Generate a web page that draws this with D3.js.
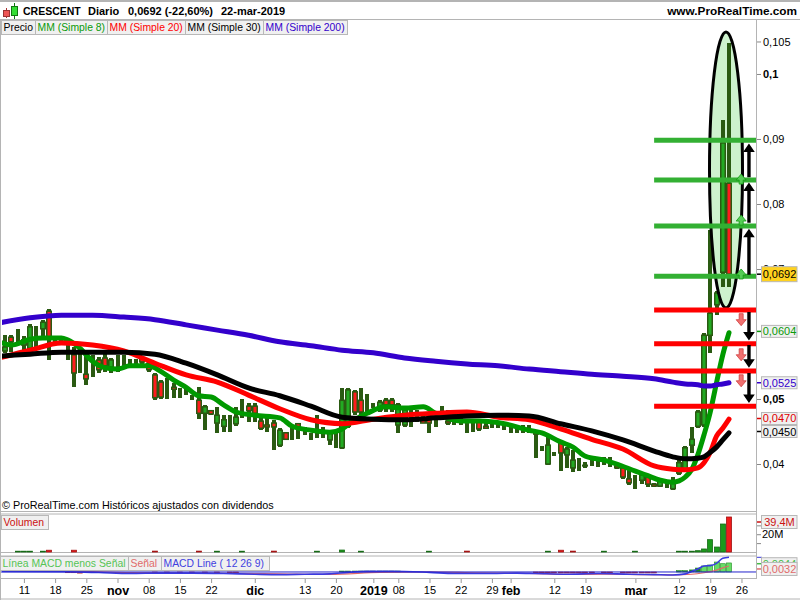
<!DOCTYPE html>
<html>
<head>
<meta charset="utf-8">
<script src="https://cdn.jsdelivr.net/npm/d3@7/dist/d3.min.js"></script>
<style>
html,body{margin:0;padding:0;background:#fff}
svg{display:block}
text{font-family:"Liberation Sans",Arial,sans-serif}
</style>
</head>
<body>
<div id="chart"></div>
<script>
// ---------- price data ----------
const high = [.0598,.0598,.0608,.0597,.0615,.0612,.0622,.0638,.0595,.0595,.0586,.0580,.0575,.0568,.0568,.0565,.0571,.0563,.0568,.0568,
.0562,.0562,.0565,.0557,.0540,.0529,.0532,.0525,.0517,.0518,.0506,.0518,.0491,.0483,.0488,.0475,.0475,.0488,.0500,.0494,
.0494,.0472,.0472,.0468,.0455,.0449,.0457,.0463,.0457,.0448,.0475,.0457,.0448,.0449,.0517,.0517,.0514,.0517,.0508,.0494,
.0498,.0502,.0502,.0494,.0483,.0488,.0483,.0480,.0480,.0472,.0489,.0483,.0480,.0478,.0468,.0468,.0466,.0463,.0465,.0465,
.0463,.0460,.0458,.0460,.0460,.0452,.0428,.0442,.0418,.0437,.0426,.0422,.0409,.0403,.0406,.0409,.0411,.0411,.0398,.0395,
.0391,.0383,.0386,.0382,.0371,.0378,.0375,.0380,.0406,.0428,.0457,.0483,.0602,.0760,.0666,.0929,.1048];
const low = [.0571,.0572,.0588,.0572,.0575,.0578,.0594,.0560,.0586,.0586,.0560,.0518,.0540,.0522,.0534,.0540,.0542,.0540,.0542,.0549,
.0549,.0549,.0554,.0542,.0498,.0500,.0500,.0502,.0502,.0506,.0498,.0469,.0452,.0475,.0448,.0449,.0449,.0458,.0471,.0465,
.0465,.0452,.0449,.0422,.0426,.0437,.0437,.0438,.0445,.0437,.0440,.0440,.0429,.0425,.0423,.0455,.0475,.0475,.0478,.0486,
.0480,.0480,.0480,.0448,.0457,.0457,.0465,.0463,.0448,.0457,.0471,.0460,.0460,.0460,.0448,.0449,.0451,.0454,.0455,.0455,
.0452,.0448,.0448,.0448,.0448,.0409,.0420,.0398,.0412,.0389,.0394,.0388,.0389,.0394,.0397,.0395,.0398,.0395,.0392,.0377,
.0368,.0362,.0369,.0365,.0365,.0365,.0363,.0360,.0383,.0388,.0417,.0455,.0457,.0571,.0629,.0672,.0672];
const open = [.0574,.0595,.0598,.0583,.0578,.0583,.0608,.0635,.0591,.0591,.0575,.0568,.0560,.0538,.0554,.0560,.0563,.0549,.0555,.0560,
.0555,.0555,.0563,.0555,.0537,.0526,.0514,.0518,.0509,.0512,.0503,.0498,.0478,.0482,.0463,.0458,.0463,.0462,.0486,.0489,
.0489,.0466,.0460,.0463,.0429,.0448,.0446,.0462,.0451,.0443,.0452,.0448,.0437,.0437,.0425,.0458,.0511,.0498,.0494,.0491,
.0483,.0498,.0498,.0460,.0460,.0472,.0475,.0468,.0468,.0465,.0480,.0466,.0471,.0468,.0458,.0458,.0465,.0458,.0460,.0460,
.0457,.0454,.0452,.0454,.0454,.0449,.0425,.0400,.0415,.0432,.0414,.0394,.0398,.0398,.0402,.0402,.0405,.0403,.0397,.0394,
.0377,.0372,.0375,.0380,.0369,.0366,.0369,.0362,.0386,.0391,.0429,.0458,.0460,.0598,.0645,.0695,.0832];
const close = [.0580,.0588,.0598,.0591,.0611,.0583,.0618,.0595,.0591,.0591,.0575,.0540,.0560,.0531,.0554,.0545,.0551,.0560,.0555,.0560,
.0555,.0555,.0557,.0545,.0502,.0503,.0514,.0515,.0509,.0512,.0503,.0478,.0488,.0477,.0475,.0468,.0463,.0472,.0486,.0482,
.0478,.0455,.0457,.0457,.0452,.0438,.0446,.0457,.0451,.0443,.0452,.0448,.0448,.0437,.0498,.0514,.0480,.0480,.0494,.0491,
.0495,.0491,.0491,.0491,.0483,.0472,.0475,.0463,.0463,.0465,.0480,.0463,.0471,.0468,.0458,.0458,.0454,.0455,.0460,.0460,
.0457,.0454,.0452,.0454,.0454,.0446,.0425,.0429,.0415,.0417,.0423,.0406,.0398,.0397,.0402,.0402,.0405,.0403,.0394,.0380,
.0371,.0372,.0383,.0369,.0366,.0374,.0369,.0371,.0402,.0425,.0438,.0480,.0598,.0632,.0663,.0894,.0692];

// ---------- moving averages ----------
const maIdx = [-1,4,9,14,19,24,29,34,39,44,49,54,59,64,69,74,79,84,89,94,99,104,107,109,111,112,113,114,115,116];
const sma20 = [.0563,.0575,.0586,.0583,.0574,.0555,.0537,.0526,.0506,.0485,.0468,.0462,.0469,.0475,.0478,.0480,.0472,.0468,.0454,.0438,.0423,.0397,.0392,.0391,.0394,.0402,.0418,.0443,.0455,.0469];
const sma30 = [.0566,.0569,.0572,.0572,.0572,.0569,.0555,.0537,.0517,.0505,.0489,.0472,.0469,.0468,.0471,.0474,.0475,.0474,.0462,.0451,.0437,.0420,.0411,.0408,.0409,.0411,.0418,.0426,.0437,.0448];
const sma200 = [.0617,.0625,.0629,.0629,.0626,.0622,.0614,.0606,.0598,.0588,.0582,.0575,.0571,.0563,.0558,.0554,.0551,.0546,.0542,.0538,.0535,.0531,.0526,.0523,.0522,.0520,.0520,.0522,.0523,.0525];
const sma8Idx = [-1,1,4,6,9,10,12,14,16,18,20,23,25,27,29,31,33,35,37,40,44,46,49,52,54,56,58,61,64,67,69,73,76,80,84,86,89,91,93,96,98,101,103,105,107,108,109,110,111,112,113,114,115,116];
const sma8 = [.0588,.0583,.0592,.0594,.0594,.0591,.0578,.0558,.0548,.0546,.0551,.0551,.0542,.0529,.0518,.0505,.0503,.0491,.0480,.0475,.0471,.0458,.0452,.0449,.0454,.0468,.0478,.0488,.0486,.0488,.0478,.0466,.0466,.0462,.0452,.0448,.0434,.0426,.0412,.0406,.0400,.0389,.0382,.0375,.0372,.0374,.0380,.0391,.0414,.0445,.0480,.0525,.0568,.0602];

// ---------- annotations ----------
const greenLevels = [.0898,.0837,.0766,.0689];
const redLevels = [.0637,.0585,.0543,.0489];
const upArrows = [[.0691,.0762],[.0771,.0833],[.0841,.0893]];
const downArrows = [[.0634,.0590],[.0583,.0548],[.0540,.0494]];
const greenMarks = [.0700,.0783,.0846];
const redMarks = [.0622,.0568,.0528];
const ellipseTop = .10646, ellipseBottom = .0640;

// ---------- volume ----------
const volIdx = [2,3,4,6,7,11,24,31,34,38,43,50,54,57,68,74,87,89,91,96,101,108,109,110,111,112,113,114,115,116];
const volM = [.9,.9,.9,.9,2,2,1,1,.9,.9,1,.9,2.2,.9,.9,1,.9,2,1,.9,.9,.9,.9,.9,1.5,3.4,13.9,5.6,31.5,39.4];
const volUp = [1,1,1,1,0,0,0,0,1,1,0,1,1,1,1,0,1,0,0,1,1,1,1,1,1,1,1,1,1,0];

// ---------- MACD ----------
const macdIdx = [-1,10,15,20,25,30,35,40,44,48,52,55,58,62,68,72,78,82,85,90,95,100,104,107,109,110,111,112,113,114,115,116];
const macdLine = [.0003,.0001,-.0003,-.0008,-.0006,-.0006,-.0008,-.0012,-.0014,-.0012,-.0010,-.0002,.0003,.0004,-.0002,-.0008,-.0008,-.0006,-.0008,-.0012,-.0008,-.0012,-.0014,-.0016,-.0010,.0002,.0016,.0032,.0034,.0046,.0073,.0078];
const signalIdx = [-1,12,20,28,36,44,52,60,68,76,84,90,96,102,107,110,112,113,114,115,116];
const signalLine = [.0003,.0003,-.0003,-.0006,-.0007,-.0010,-.0013,-.0002,.0001,-.0005,-.0007,-.0013,-.0012,-.0014,-.0015,-.0012,-.0004,.0002,.0010,.0022,.0032];
const histIdx = [10,11,12,24,26,28,30,32,34,36,37,54,55,56,57,58,59,60,61,62,63,85,86,87,88,89,90,91,92,93,94,96,97,99,100,101,102,103,104,108,109,110,111,112,113,114,115,116];
const histVal = [-.0004,-.0004,-.0006,-.0005,-.0005,-.0005,-.0005,-.0005,-.0005,-.0005,-.0005,.0005,.0005,.0005,.0005,.0005,.0005,.0005,.0005,.0005,.0005,-.0005,-.0005,-.0005,-.0005,-.0005,-.0005,-.0005,-.0005,-.0005,-.0005,-.0005,-.0005,-.0005,-.0005,-.0005,-.0005,-.0005,-.0005,.0007,.0007,.0011,.0021,.0032,.0037,.0053,.0044,.0048];

// ---------- labels ----------
const dateTickIdx = [3,8,13,18,23,28,33,40,48,53,59,63,68,73,78,81,88,93,101,108,113,118];
const dateTickLabels = ["11","18","25","nov","08","15","22","dic","13","20","2019","08","15","22","29","feb","12","19","mar","12","19","26"];
const boldDates = ["nov","dic","2019","feb","mar"];
const priceTicks = [.105,.1,.09,.08,.07,.05,.04];
const priceLabels = ["0,105","0,1","0,09","0,08","0,07","0,05","0,04"];
const boldPrices = ["0,1","0,05"];
const priceLegend = ["Precio","MM (Simple 8)","MM (Simple 20)","MM (Simple 30)","MM (Simple 200)"];
const priceLegendColors = ["#000","#0a9a0a","#f00","#000","#3300cc"];
const priceLegendEdges = [1,35,107,185,263,347];
const macdLegend = ["Línea MACD menos Señal","Señal","MACD Line ( 12 26 9)"];
const macdLegendColors = ["#55c455","#e06a6a","#4040e0"];
const macdLegendEdges = [0,128,161,269];

// ---------- scales ----------
const x = d3.scaleLinear().domain([0,116]).range([5.2,729]);
const y = d3.scaleLinear().domain([.03277,.10815]).range([511,21]);
const yVol = d3.scaleLinear().domain([0,39.4]).range([552,517]);
const yMacd = d3.scaleLinear().domain([-.0032,.0085]).range([578,556]);

const GRID="#b4b4b4", DARK="#2a5a12", GREEN="#22aa22", RED="#ff1c1c";
const svg = d3.select("#chart").append("svg").attr("width",800).attr("height",600);
svg.append("rect").attr("width",800).attr("height",600).attr("fill","#fff");
const defs = svg.append("defs");
defs.append("clipPath").attr("id","main").append("rect").attr("x",2).attr("y",21).attr("width",754).attr("height",490);

// panel frames
const hLines = [[0,800,0.5],[0,800,1.5],[0,800,19.5],[0,757,511.5],[0,757,514],[0,757,552.5],[0,757,556],[0,757,578.5],[0,800,599]];
svg.selectAll("line.frame").data(hLines).join("line").attr("class","frame")
  .attr("x1",d=>d[0]).attr("x2",d=>d[1]).attr("y1",d=>d[2]).attr("y2",d=>d[2])
  .attr("stroke",GRID).attr("stroke-width",1);
svg.append("line").attr("x1",756.5).attr("x2",756.5).attr("y1",20).attr("y2",578).attr("stroke",GRID);
svg.append("line").attr("x1",.5).attr("x2",.5).attr("y1",20).attr("y2",600).attr("stroke",GRID);

// header
const iconG = svg.append("g");
iconG.append("line").attr("x1",6.5).attr("x2",6.5).attr("y1",8).attr("y2",18).attr("stroke","#a33");
iconG.append("rect").attr("x",3.5).attr("y",10.5).attr("width",6).attr("height",6).attr("fill","#e55").attr("stroke","#933");
iconG.append("line").attr("x1",14.5).attr("x2",14.5).attr("y1",3).attr("y2",19).attr("stroke","#171");
iconG.append("rect").attr("x",11.5).attr("y",6.5).attr("width",6).attr("height",9).attr("fill","#3d3").attr("stroke","#171");
const hdr = [["CRESCENT",23,10.5],["Diario",88,11],["0,0692 (-22,60%)",128,11],["22-mar-2019",221,11]];
svg.selectAll("text.hdr").data(hdr).join("text").attr("class","hdr")
  .attr("x",d=>d[1]).attr("y",15).attr("font-size",d=>d[2]).attr("font-weight","bold").attr("fill","#000").text(d=>d[0]);
svg.append("text").attr("x",797).attr("y",15).attr("text-anchor","end").attr("font-size",11.8).attr("font-weight","bold").text("www.ProRealTime.com");

// ellipse fill sits under the candles, its outline over them
const ellCy = y((ellipseTop+ellipseBottom)/2), ellRy = (y(ellipseBottom)-y(ellipseTop))/2, ellCx = x(116)-3;
const cg = svg.append("g").attr("clip-path","url(#main)");
cg.append("ellipse").attr("cx",ellCx).attr("cy",ellCy).attr("rx",16.5).attr("ry",ellRy).attr("fill","#cdf2cd");

// candles
const idx = d3.range(high.length);
cg.selectAll("line.w").data(idx).join("line").attr("class","w")
  .attr("x1",i=>Math.round(x(i))).attr("x2",i=>Math.round(x(i)))
  .attr("y1",i=>y(high[i])).attr("y2",i=>y(low[i]))
  .attr("stroke",DARK).attr("stroke-width",4).attr("shape-rendering","crispEdges");
cg.selectAll("rect.b").data(idx).join("rect").attr("class","b")
  .attr("x",i=>Math.round(x(i))-2.25).attr("width",4.5)
  .attr("y",i=>y(Math.max(open[i],close[i])))
  .attr("height",i=>Math.abs(y(open[i])-y(close[i])))
  .attr("fill",i=>close[i]>=open[i]?GREEN:RED)
  .attr("stroke",DARK).attr("stroke-width",1.5);

// moving averages
function maPath(ids,vals,color,w){
  const line = d3.line().x((d,i)=>x(ids[i])).y(d=>y(d)).curve(d3.curveMonotoneX);
  cg.append("path").attr("d",line(vals)).attr("fill","none").attr("stroke",color)
    .attr("stroke-width",w).attr("stroke-linecap","round").attr("stroke-linejoin","round");
}
maPath(sma8Idx,sma8,"#009900",5);
maPath(maIdx,sma20,"#ff0000",5);
maPath(maIdx,sma30,"#000000",5);
maPath(maIdx,sma200,"#3300cc",5);

cg.append("ellipse").attr("cx",ellCx).attr("cy",ellCy).attr("rx",16.5).attr("ry",ellRy)
  .attr("fill","none").attr("stroke","#000").attr("stroke-width",3);

// level lines
const lvX0 = x(104), lvX1 = 756;
cg.selectAll("line.gl").data(greenLevels).join("line").attr("class","gl")
  .attr("x1",lvX0).attr("x2",lvX1).attr("y1",d=>y(d)).attr("y2",d=>y(d)).attr("stroke","#33b033").attr("stroke-width",5);
cg.selectAll("line.rl").data(redLevels).join("line").attr("class","rl")
  .attr("x1",lvX0).attr("x2",lvX1).attr("y1",d=>y(d)).attr("y2",d=>y(d)).attr("stroke","#ff0000").attr("stroke-width",5);

// arrows
const ax = x(119.2), mx = x(117.95);
function bigArrow(d){
  const a=y(d[0]), b=y(d[1]), dir=b<a?1:-1, hd=8.5, hw=5.8, sw=1.7;
  return `M${ax-sw},${a}L${ax-sw},${b+dir*hd}L${ax-hw},${b+dir*hd}L${ax},${b}L${ax+hw},${b+dir*hd}L${ax+sw},${b+dir*hd}L${ax+sw},${a}Z`;
}
svg.selectAll("path.ba").data(upArrows.concat(downArrows)).join("path").attr("class","ba").attr("d",bigArrow).attr("fill","#000");
svg.selectAll("path.gm").data(greenMarks).join("path").attr("class","gm")
  .attr("d",d=>{const t=y(d);return `M${mx},${t}L${mx+5},${t+6}L${mx+2},${t+6}L${mx+2},${t+10}L${mx-2},${t+10}L${mx-2},${t+6}L${mx-5},${t+6}Z`;})
  .attr("fill","#55cc55").attr("stroke","#119911").attr("stroke-width",.8);
svg.selectAll("path.rm").data(redMarks).join("path").attr("class","rm")
  .attr("d",d=>{const t=y(d);return `M${mx},${t+6}L${mx+5},${t}L${mx+2},${t}L${mx+2},${t-6}L${mx-2},${t-6}L${mx-2},${t}L${mx-5},${t}Z`;})
  .attr("fill","#f07070").attr("stroke","#d04040").attr("stroke-width",.8);

// legend boxes
function legendBoxes(labels,colors,edges,yTop,h){
  labels.forEach((t,i)=>{
    svg.append("rect").attr("x",edges[i]+.5).attr("y",yTop+.5).attr("width",edges[i+1]-edges[i]).attr("height",h)
      .attr("fill","#f0f0f0").attr("stroke","#b8b8b8");
    svg.append("text").attr("x",edges[i]+2.5).attr("y",yTop+h-3).attr("font-size",10.4).attr("fill",colors[i]).text(t);
  });
}
legendBoxes(priceLegend,priceLegendColors,priceLegendEdges,20,14);

// price axis
const yAxis = d3.axisRight(y).tickValues(priceTicks).tickSize(4).tickPadding(2).tickFormat((d,i)=>priceLabels[i]);
const ga = svg.append("g").attr("transform","translate(757,0)").call(yAxis);
ga.select(".domain").remove();
ga.selectAll("line").attr("stroke","#888");
ga.selectAll("text").attr("font-size",11).attr("fill","#000")
  .attr("font-weight",(d,i)=>boldPrices.includes(priceLabels[i])?"bold":"normal")
  .style("font-family",'"Liberation Sans",Arial,sans-serif');

// price tags
const tags = [[.0604,"0,0604","#0a9a0a","#f0f0f0"],[.0525,"0,0525","#3300cc","#f0f0f0"],[.0470,"0,0470","#e00000","#f0f0f0"],[.0450,"0,0450","#000","#f0f0f0"],[.0692,"0,0692","#000","#ffd21e"]];
function tag(cy,txt,color,bg,h){
  svg.append("line").attr("x1",757).attr("x2",762).attr("y1",cy).attr("y2",cy).attr("stroke",color).attr("stroke-width",1.5);
  svg.append("rect").attr("x",761.5).attr("y",cy-h/2).attr("width",35.5).attr("height",h).attr("fill",bg).attr("stroke","#b8b8b8");
  svg.append("text").attr("x",779.5).attr("y",cy+4).attr("text-anchor","middle").attr("font-size",11).attr("fill",color).text(txt);
}
tags.forEach(t=>tag(y(t[0]),t[1],t[2],t[3],t[1]==="0,0692"?15:12));

// source note
svg.append("text").attr("x",2).attr("y",509).attr("font-size",10.8).attr("fill","#000").text("© ProRealTime.com  Históricos ajustados con dividendos");

// volume
const vg = svg.append("g");
vg.selectAll("rect").data(volIdx).join("rect")
  .attr("x",i=>Math.round(x(i))-2.5).attr("width",5)
  .attr("y",(i,k)=>yVol(volM[k])).attr("height",(i,k)=>yVol(0)-yVol(volM[k]))
  .attr("fill",(i,k)=>volUp[k]?"#1c9a1c":"#f01c1c")
  .attr("stroke",(i,k)=>volUp[k]?"#166a16":"#a01010").attr("stroke-width",.8);
legendBoxes(["Volumen"],["#cc1111"],[1,48],515,14);
const yvAxis = d3.axisRight(yVol).tickValues([10,20,30]).tickSize(4).tickFormat(d=>d===20?"20M":"");
const gv = svg.append("g").attr("transform","translate(757,0)").call(yvAxis);
gv.select(".domain").remove();
gv.selectAll("line").attr("stroke","#888");
gv.selectAll("text").attr("font-size",11).attr("fill","#000").attr("x",5).style("font-family",'"Liberation Sans",Arial,sans-serif');
tag(yVol(39.4)+5,"39,4M","#cc1111","#f0f0f0",13);

// MACD
const mg = svg.append("g");
mg.selectAll("rect").data(histIdx).join("rect")
  .attr("x",i=>Math.round(x(i))-2.5).attr("width",5)
  .attr("y",(i,k)=>Math.min(yMacd(histVal[k]),yMacd(0)))
  .attr("height",(i,k)=>Math.abs(yMacd(histVal[k])-yMacd(0)))
  .attr("fill",(i,k)=>i>=112?"#66dd66":(histVal[k]>0?"#1c8a1c":"#b02020"))
  .attr("stroke",(i,k)=>histVal[k]>0?"#1c8a1c":"#b02020").attr("stroke-width",.6);
const mline = (ids)=>d3.line().x((d,i)=>x(ids[i])).y(d=>yMacd(d)).curve(d3.curveMonotoneX);
defs.append("clipPath").attr("id","mc").append("rect").attr("x",2).attr("y",556).attr("width",754).attr("height",22);
mg.append("path").attr("clip-path","url(#mc)").attr("d",mline(signalIdx)(signalLine)).attr("fill","none").attr("stroke","#e06a6a").attr("stroke-width",1.2);
mg.append("path").attr("clip-path","url(#mc)").attr("d",mline(macdIdx)(macdLine)).attr("fill","none").attr("stroke","#3a3ae0").attr("stroke-width",1.6);
mg.append("line").attr("x1",1).attr("x2",756).attr("y1",yMacd(0)).attr("y2",yMacd(0)).attr("stroke","#2222cc").attr("stroke-width",1);
legendBoxes(macdLegend,macdLegendColors,macdLegendEdges,556,14);
svg.append("line").attr("x1",757).attr("x2",762).attr("y1",yMacd(.0078)).attr("y2",yMacd(.0078)).attr("stroke","#3a3ae0");
tag(yMacd(.0044),"0,0044","#44bb44","#f0f0f0",12);
tag(yMacd(.0032)+3,"0,0032","#e06a6a","#f0f0f0",13);

// date axis
const xAxis = d3.axisBottom(x).tickValues(dateTickIdx).tickSize(4).tickPadding(3).tickFormat((d,i)=>dateTickLabels[i]);
const gx = svg.append("g").attr("transform","translate(0,579)").call(xAxis);
gx.select(".domain").remove();
gx.selectAll("line").attr("stroke","#999");
gx.selectAll("text").attr("fill","#000")
  .attr("font-size",(d,i)=>boldDates.includes(dateTickLabels[i])?12.5:11)
  .attr("font-weight",(d,i)=>boldDates.includes(dateTickLabels[i])?"bold":"normal")
  .style("font-family",'"Liberation Sans",Arial,sans-serif');
</script>
</body>
</html>
